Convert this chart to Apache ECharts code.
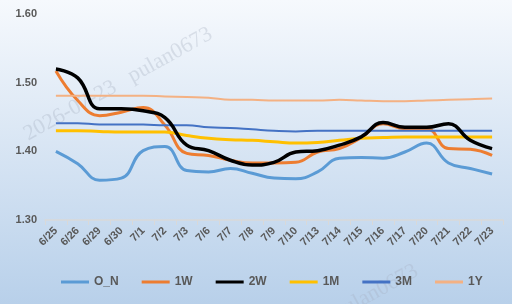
<!DOCTYPE html>
<html><head><meta charset="utf-8">
<script src="https://cdn.jsdelivr.net/npm/echarts@6/dist/echarts.min.js"></script>
<style>html,body{margin:0;padding:0;}#c{width:512px;height:304px;}</style>
</head><body><div id="c"></div>
<script>
const categories = ['6/25','6/26','6/29','6/30','7/1','7/2','7/3','7/6','7/7','7/8','7/9','7/10','7/13','7/14','7/15','7/16','7/17','7/20','7/21','7/22','7/23'];
const seriesNames = ['O_N','1W','2W','1M','3M','1Y'];
const ON  = [1.400,1.382,1.358,1.361,1.401,1.407,1.372,1.370,1.375,1.368,1.361,1.360,1.370,1.390,1.391,1.390,1.399,1.412,1.383,1.375,1.367];
const W1  = [1.517,1.474,1.452,1.457,1.464,1.438,1.397,1.394,1.387,1.383,1.383,1.384,1.399,1.404,1.420,1.440,1.433,1.433,1.404,1.403,1.394];
const W2  = [1.520,1.507,1.462,1.462,1.459,1.449,1.409,1.401,1.387,1.380,1.384,1.399,1.401,1.409,1.421,1.442,1.435,1.435,1.440,1.416,1.404];
const M1  = [1.430,1.430,1.429,1.428,1.428,1.428,1.423,1.419,1.417,1.416,1.414,1.412,1.413,1.416,1.419,1.420,1.421,1.421,1.421,1.421,1.421];
const M3  = [1.441,1.441,1.439,1.439,1.439,1.438,1.438,1.435,1.434,1.432,1.430,1.429,1.430,1.430,1.430,1.430,1.430,1.430,1.430,1.430,1.430];
const Y1  = [1.481,1.481,1.481,1.481,1.481,1.480,1.479,1.478,1.475,1.475,1.474,1.474,1.474,1.475,1.474,1.473,1.473,1.474,1.475,1.476,1.477];
const yTicks = ['1.30','1.40','1.50','1.60'];

const values = [ON, W1, W2, M1, M3, Y1];
const colors = ['#5b9bd5','#ed7d31','#000000','#ffc000','#4472c4','#f4b183'];
const widths = [3,3,3.5,3,2,2];

const chart = echarts.init(document.getElementById('c'), null, {renderer:'canvas'});
const font = 'Liberation Sans, Arial, sans-serif';
chart.setOption({
  backgroundColor: new echarts.graphic.LinearGradient(0,0,0,1,[
    {offset:0,color:'#f6f9fd'},{offset:1,color:'#b8d0ea'}]),
  animation:false,
  grid:{left:45,right:9,top:14,bottom:84},
  legend:{
    bottom:11, left:56, itemGap:23, itemWidth:28, itemHeight:3,
    icon:'rect',
    textStyle:{color:'#595959',fontWeight:'bold',fontSize:12,fontFamily:font},
    data: seriesNames
  },
  xAxis:{
    type:'category', data:categories, boundaryGap:true,
    axisLine:{lineStyle:{color:'#d9d9d9',width:1.5}},
    axisTick:{show:true,alignWithLabel:false,length:5,lineStyle:{color:'#d9d9d9'}},
    axisLabel:{rotate:45,interval:0,color:'#595959',fontWeight:'bold',fontSize:11,fontFamily:font,margin:9}
  },
  yAxis:{
    type:'value', min:1.3, max:1.6, interval:0.1,
    axisLine:{show:false}, axisTick:{show:false}, splitLine:{show:false},
    axisLabel:{color:'#595959',fontWeight:'bold',fontSize:11,fontFamily:font,margin:8,
      formatter:(v)=>{const s=v.toFixed(2);return yTicks.includes(s)?s:'';}}
  },
  series: seriesNames.map((n,i)=>({
    name:n, type:'line', data:values[i], smooth:0.45, symbol:'none',
    lineStyle:{color:colors[i],width:widths[i]}, itemStyle:{color:colors[i]}, z: i===2?5:2
  })),
  graphic:[
    {type:'text', rotation:Math.PI/6.2, x:20, y:126,
     style:{text:'2026-07-23   pulan0673',fill:'rgba(160,170,185,0.3)',font:'22px Liberation Serif, serif'}, silent:true},
    {type:'text', rotation:Math.PI/6.2, x:330, y:305,
     style:{text:'pulan0673',fill:'rgba(160,170,185,0.28)',font:'22px Liberation Serif, serif'}, silent:true}
  ]
});
</script></body></html>
